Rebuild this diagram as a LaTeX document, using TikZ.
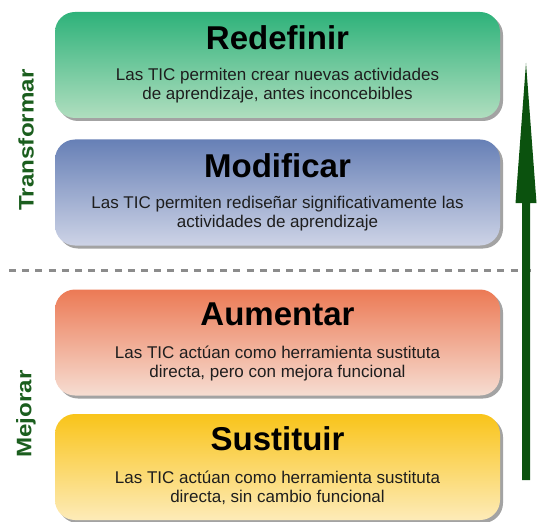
\documentclass[tikz,border=0pt]{standalone}
\usepackage{fontspec}
\setmainfont{Liberation Sans}
\usetikzlibrary{positioning,shadows,arrows.meta}

\definecolor{redefTop}{HTML}{2EB27A}
\definecolor{redefBot}{HTML}{B0DEBF}
\definecolor{modifTop}{HTML}{6780B6}
\definecolor{modifBot}{HTML}{CDD3E6}
\definecolor{aumenTop}{HTML}{EC7A55}
\definecolor{aumenBot}{HTML}{F6DDD2}
\definecolor{sustiTop}{HTML}{F9C41A}
\definecolor{sustiBot}{HTML}{FDEBB8}
\definecolor{arrowgreen}{HTML}{0B520E}
\definecolor{sidegreen}{HTML}{1B5E1E}
\definecolor{bodygray}{HTML}{1E1E1E}

\tikzset{
  levelbox/.style={rounded corners=20pt, minimum width=445pt, minimum height=106pt,
    inner sep=0pt,
    drop shadow={shadow xshift=3pt, shadow yshift=-3pt, fill=black!45, opacity=0.8}},
  leveltitle/.style={font=\fontsize{33}{36}\selectfont\bfseries, text=black},
  leveltext/.style={font=\fontsize{17}{19}\selectfont, text=bodygray, align=center},
  sidelabel/.style={font=\fontsize{21}{23}\selectfont\bfseries, text=sidegreen, rotate=90}
}

\begin{document}
\begin{tikzpicture}[x=1pt,y=-1pt]
\useasboundingbox (0,0) rectangle (537,521);

% dashed divider
\coordinate (divL) at (9,270);
\coordinate (divR) at (537,270);
\draw[black!45, line width=3pt, dash pattern=on 7pt off 6.2pt] (divL) -- (divR);

% levels
\node[levelbox, top color=redefTop, bottom color=redefBot] (redefinir) at (277.5,65) {};
\node[leveltitle] (redefinirT) at ([yshift=-26pt]redefinir.north) {Redefinir};
\node[leveltext] (redefinirB) at ([yshift=-21pt]redefinir.center)
  {Las TIC permiten crear nuevas actividades\\de aprendizaje, antes inconcebibles};

\node[levelbox, top color=modifTop, bottom color=modifBot] (modificar) at (277.5,192.5) {};
\node[leveltitle] (modificarT) at ([yshift=-26pt]modificar.north) {Modificar};
\node[leveltext] (modificarB) at ([yshift=-21pt]modificar.center)
  {Las TIC permiten rediseñar significativamente las\\actividades de aprendizaje};

\node[levelbox, top color=aumenTop, bottom color=aumenBot] (aumentar) at (277.5,342.5) {};
\node[leveltitle] (aumentarT) at ([yshift=-25pt]aumentar.north) {Aumentar};
\node[leveltext] (aumentarB) at ([yshift=-21pt]aumentar.center)
  {Las TIC actúan como herramienta sustituta\\directa, pero con mejora funcional};

\node[levelbox, top color=sustiTop, bottom color=sustiBot] (sustituir) at (277.5,467) {};
\node[leveltitle] (sustituirT) at ([yshift=-25pt]sustituir.north) {Sustituir};
\node[leveltext] (sustituirB) at ([yshift=-21pt]sustituir.center)
  {Las TIC actúan como herramienta sustituta\\directa, sin cambio funcional};

% side labels
\node[sidelabel] (transformar) at (26,140) {\scalebox{1.15}[1]{Transformar}};
\node[sidelabel] (mejorar) at (26,414) {\scalebox{1.15}[1]{Mejorar}};

% progression arrow
\coordinate (arrowtip) at (526,63);
\fill[arrowgreen] (arrowtip) -- (536.5,203) -- (530,203) -- (530,480)
  -- (522,480) -- (522,203) -- (515.5,203) -- cycle;
\end{tikzpicture}
\end{document}
